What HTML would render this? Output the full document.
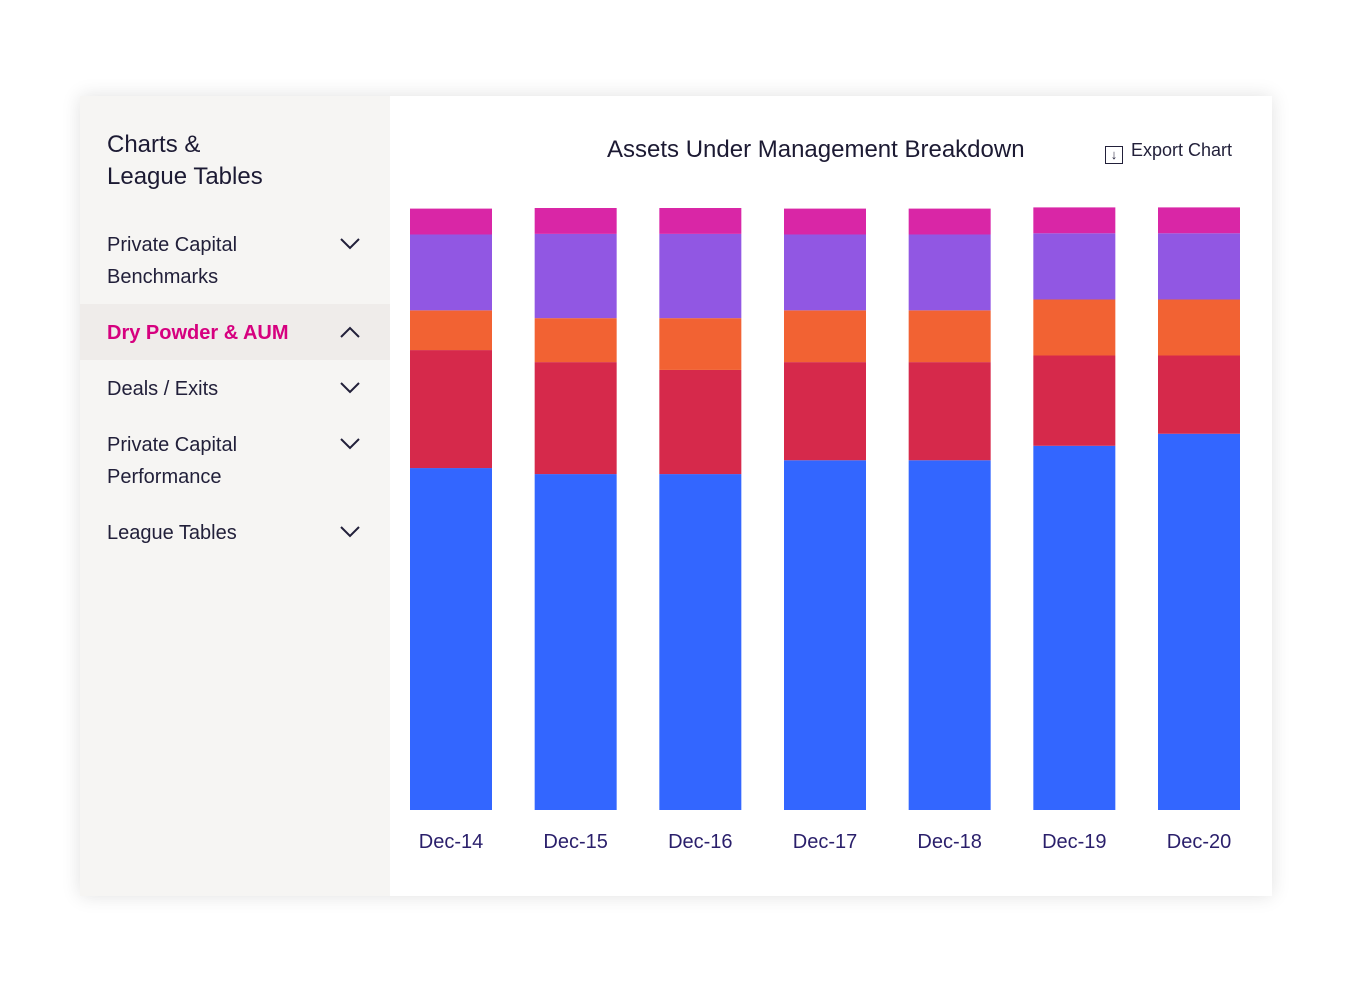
<!DOCTYPE html>
<html><head><meta charset="utf-8"><style>
body{margin:0;width:1360px;height:992px;background:#fff;font-family:"Liberation Sans",sans-serif;position:relative;overflow:hidden}
#card{position:absolute;left:80px;top:96px;width:1192px;height:800px;box-shadow:0 0 18px rgba(0,0,0,0.12)}
#side{position:absolute;left:80px;top:96px;width:310px;height:800px;background:#f6f5f3}
#main{position:absolute;left:390px;top:102px;width:882px;height:794px;background:#fff}
.t{position:absolute;color:#1c1a33}
.item{position:absolute;left:107px;font-size:20px;line-height:32px;color:#22203a}
.chev{position:absolute;left:340px;width:20px;height:12px}
</style></head><body>
<div id="card"></div>
<div id="side"></div>
<div id="main"></div>
<div class="t" style="left:107px;top:129px;font-size:24px;line-height:32px">Charts &amp;<br>League Tables</div>
<div class="item" style="top:229px">Private Capital<br>Benchmarks</div>
<svg class="chev" style="top:238px" viewBox="0 0 20 12"><path d="M1 1L10 10L19 1" stroke="#22203a" stroke-width="2" fill="none"/></svg>
<div style="position:absolute;left:80px;top:304px;width:310px;height:56px;background:#efecea"></div>
<div class="item" style="top:317px;color:#d6007f;font-weight:bold">Dry Powder &amp; AUM</div>
<svg class="chev" style="top:326px" viewBox="0 0 20 12"><path d="M1 11L10 2L19 11" stroke="#22203a" stroke-width="2" fill="none"/></svg>
<div class="item" style="top:373px">Deals / Exits</div>
<svg class="chev" style="top:382px" viewBox="0 0 20 12"><path d="M1 1L10 10L19 1" stroke="#22203a" stroke-width="2" fill="none"/></svg>
<div class="item" style="top:429px">Private Capital<br>Performance</div>
<svg class="chev" style="top:438px" viewBox="0 0 20 12"><path d="M1 1L10 10L19 1" stroke="#22203a" stroke-width="2" fill="none"/></svg>
<div class="item" style="top:517px">League Tables</div>
<svg class="chev" style="top:526px" viewBox="0 0 20 12"><path d="M1 1L10 10L19 1" stroke="#22203a" stroke-width="2" fill="none"/></svg>
<div class="t" style="left:607px;top:135px;font-size:24px;line-height:30px">Assets Under Management Breakdown</div>
<div style="position:absolute;left:1105px;top:139px;font-size:18px;line-height:22px;color:#22203a">
<span style="display:inline-block;width:16px;height:16px;border:1.5px solid #22203a;vertical-align:-3px;text-align:center;font-size:13px;line-height:16px;margin-right:8px">↓</span>Export Chart</div>
<svg id="chart" width="1360" height="992" style="position:absolute;left:0;top:0"></svg>
<script>
const categories=["Dec-14","Dec-15","Dec-16","Dec-17","Dec-18","Dec-19","Dec-20"];
const blue=[56.8,55.8,55.8,58.1,58.1,60.5,62.5];
const red=[19.6,18.6,17.3,16.3,16.3,15.0,13.0];
const orange=[6.6,7.3,8.6,8.6,8.6,9.3,9.3];
const purple=[12.6,14.0,14.0,12.6,12.6,11.0,11.0];
const pink=[4.3,4.3,4.3,4.3,4.3,4.3,4.3];
const series=[[blue,"#3366ff"],[red,"#d6294b"],[orange,"#f26233"],[purple,"#9157e3"],[pink,"#d926a6"]];
const svg=document.getElementById('chart');const NS="http://www.w3.org/2000/svg";
const y0=810,y1=208,yMax=100;
const y=v=>y0-(v/yMax)*(y0-y1);
const step=(1158-410)/(categories.length-1),bw=82;
const x=i=>410+i*step;
categories.forEach((c,i)=>{
 let acc=0;
 series.forEach(([arr,col],k)=>{
  const r=document.createElementNS(NS,'rect');
  r.setAttribute('x',x(i));r.setAttribute('width',bw);
  r.setAttribute('y',y(acc+arr[i]));r.setAttribute('height',y(acc)-y(acc+arr[i]));
  r.setAttribute('fill',col);
  
  
  svg.appendChild(r);acc+=arr[i];
 });
 const t=document.createElementNS(NS,'text');
 t.setAttribute('x',x(i)+bw/2);t.setAttribute('y',848);t.setAttribute('text-anchor','middle');
 t.setAttribute('font-size','20');t.setAttribute('fill','#2a1f6b');t.setAttribute('font-family','Liberation Sans, sans-serif');
 t.textContent=c;
 
 
 svg.appendChild(t);
});
</script>
</body></html>
